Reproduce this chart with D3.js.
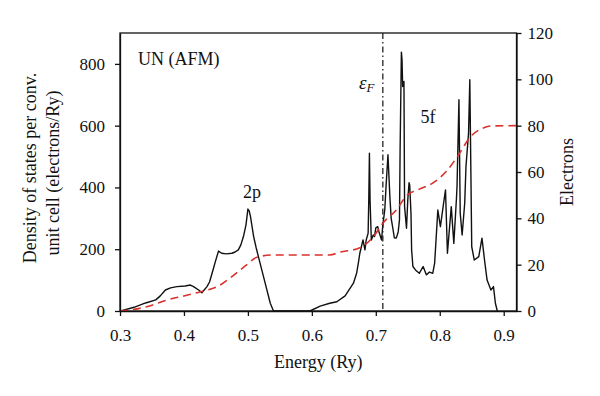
<!DOCTYPE html>
<html lang="en">

<head>
    <meta charset="UTF-8" />
    <title>UN (AFM) density of states</title>
    <script src="https://d3js.org/d3.v7.min.js"></script>
    <style>
        body {
            margin: 0;
            background: #fff;
        }

        svg {
            font-family: "Liberation Serif", "DejaVu Serif", serif;
        }

        .axis line,
        .axis path.domain {
            stroke: #111;
            stroke-width: 1.3px;
        }
    </style>
</head>

<body>
    <svg id="chart" width="600" height="396"></svg>

    <script>
        // energy grid of the DOS curve (Ry) and DOS values (electrons/Ry)
        const dosEnergy = [0.301, 0.322, 0.340, 0.356, 0.363, 0.371, 0.379, 0.389, 0.402, 0.410,
            0.415, 0.423, 0.428, 0.436, 0.440, 0.444, 0.449, 0.454, 0.459, 0.466,
            0.475, 0.480, 0.485, 0.489, 0.493, 0.497, 0.500, 0.502, 0.504, 0.509,
            0.513, 0.519, 0.527, 0.535, 0.540, 0.597, 0.613, 0.628, 0.639, 0.652,
            0.665, 0.670, 0.673, 0.675, 0.680, 0.683, 0.685, 0.688, 0.689, 0.690,
            0.691, 0.693, 0.696, 0.698, 0.700, 0.703, 0.705, 0.709, 0.711, 0.714,
            0.716, 0.719, 0.722, 0.724, 0.727, 0.729, 0.732, 0.735, 0.737, 0.738,
            0.740, 0.741, 0.742, 0.744, 0.745, 0.748, 0.750, 0.752, 0.753, 0.755,
            0.756, 0.758, 0.762, 0.768, 0.774, 0.779, 0.784, 0.789, 0.792, 0.797,
            0.801, 0.806, 0.809, 0.812, 0.818, 0.822, 0.826, 0.827, 0.830, 0.832,
            0.835, 0.839, 0.841, 0.845, 0.847, 0.850, 0.854, 0.861, 0.866, 0.870,
            0.874, 0.880, 0.884, 0.887, 0.890
        ];
        const dosValues = [0, 12, 26, 36, 49, 68, 75, 79, 81, 84,
            79, 68, 59, 79, 94, 122, 159, 194, 187, 185,
            187, 191, 198, 214, 241, 279, 330, 324, 306, 241,
            204, 155, 90, 25, 0, 0, 16, 25, 30, 49,
            90, 122, 159, 187, 230, 198, 230, 252, 360, 511,
            360, 230, 246, 241, 269, 273, 256, 230, 279, 327,
            403, 506, 370, 301, 263, 237, 236, 256, 295, 522,
            838, 814, 727, 743, 338, 268, 360, 415, 408, 317,
            198, 144, 133, 122, 144, 117, 126, 122, 155, 327,
            273, 349, 392, 187, 338, 219, 360, 403, 684, 317,
            246, 349, 468, 576, 749, 208, 165, 176, 236, 165,
            100, 68, 79, 25, 0
        ];

        // integrated number of electrons (red dashed curve)
        const elecEnergy = [0.300, 0.322, 0.350, 0.374, 0.400, 0.426, 0.452, 0.478, 0.498, 0.514,
            0.540, 0.628, 0.644, 0.675, 0.696, 0.711, 0.732, 0.748, 0.768, 0.789,
            0.810, 0.831, 0.846, 0.867, 0.883, 0.920
        ];
        const elecValues = [0, 0.7, 2.5, 4.8, 6.5, 8.3, 10.5, 15.5, 19.9, 23.2,
            24.2, 24.2, 25.4, 27.3, 32.0, 37.9, 43.6, 49.7, 52.6, 55.2,
            60.2, 68.1, 74.6, 78.9, 79.9, 80.0
        ];

        const xTicks = [0.3, 0.4, 0.5, 0.6, 0.7, 0.8, 0.9];
        const yLeftTicks = [0, 200, 400, 600, 800];
        const yRightTicks = [0, 20, 40, 60, 80, 100, 120];
        const fermiEnergy = 0.711;

        const serif = "'Liberation Serif', 'DejaVu Serif', serif";

        const svg = d3.select("#chart");
        const width = +svg.attr("width");
        const height = +svg.attr("height");

        const margin = {
            top: 33,
            right: 83.5,
            bottom: 85,
            left: 120
        };

        const x = d3.scaleLinear()
            .domain([0.3, 0.92])
            .range([margin.left, width - margin.right]);

        const yLeft = d3.scaleLinear()
            .domain([0, 900])
            .range([height - margin.bottom, margin.top]);

        const yRight = d3.scaleLinear()
            .domain([0, 120])
            .range([height - margin.bottom, margin.top]);

        const plotBottom = height - margin.bottom;

        // frame
        svg.append("rect")
            .attr("x", margin.left)
            .attr("y", margin.top)
            .attr("width", x.range()[1] - margin.left)
            .attr("height", plotBottom - margin.top)
            .attr("fill", "none")
            .attr("stroke", "#111")
            .attr("stroke-width", 1.3);

        // fermi level
        svg.append("line")
            .attr("x1", x(fermiEnergy)).attr("x2", x(fermiEnergy))
            .attr("y1", margin.top).attr("y2", plotBottom)
            .attr("stroke", "#111")
            .attr("stroke-width", 1.2)
            .attr("stroke-dasharray", "6,3,1.5,3");

        const dosLine = d3.line()
            .x((d, i) => x(dosEnergy[i]))
            .y(d => yLeft(d));

        svg.append("path")
            .attr("d", dosLine(dosValues))
            .attr("fill", "none")
            .attr("stroke", "#111")
            .attr("stroke-width", 1.4)
            .attr("stroke-linejoin", "round");

        const elecLine = d3.line()
            .x((d, i) => x(elecEnergy[i]))
            .y(d => yRight(d))
            .curve(d3.curveMonotoneX);

        svg.append("path")
            .attr("d", elecLine(elecValues))
            .attr("fill", "none")
            .attr("stroke", "#d9312b")
            .attr("stroke-width", 1.6)
            .attr("stroke-dasharray", "8,5");

        // axes
        function styleAxis(g) {
            g.attr("font-family", serif).attr("font-size", 17);
            g.selectAll("text")
                .attr("font-family", serif)
                .attr("fill", "#111");
        }

        svg.append("g")
            .attr("class", "axis")
            .attr("transform", `translate(0, ${plotBottom})`)
            .call(d3.axisBottom(x).tickValues(xTicks).tickFormat(d3.format(".1f"))
                .tickSizeInner(5).tickSizeOuter(0).tickPadding(13))
            .call(styleAxis);

        svg.append("g")
            .attr("class", "axis")
            .attr("transform", `translate(${margin.left}, 0)`)
            .call(d3.axisLeft(yLeft).tickValues(yLeftTicks)
                .tickSizeInner(5).tickSizeOuter(0).tickPadding(10))
            .call(styleAxis);

        svg.append("g")
            .attr("class", "axis")
            .attr("transform", `translate(${x.range()[1]}, 0)`)
            .call(d3.axisRight(yRight).tickValues(yRightTicks)
                .tickSizeInner(5).tickSizeOuter(0).tickPadding(6))
            .call(styleAxis);

        // axis titles
        svg.append("text")
            .attr("x", x(0.61))
            .attr("y", 368)
            .attr("text-anchor", "middle")
            .attr("font-size", 18)
            .attr("fill", "#111")
            .text("Energy (Ry)");

        const leftTitle = svg.append("text")
            .attr("transform", `translate(36, 168) rotate(-90)`)
            .attr("text-anchor", "middle")
            .attr("font-size", 18)
            .attr("fill", "#111");
        leftTitle.append("tspan").attr("x", 0).attr("y", 0).text("Density of states per conv.");
        leftTitle.append("tspan").attr("x", -5).attr("y", 23).text("unit cell (electrons/Ry)");

        svg.append("text")
            .attr("transform", `translate(573, 172) rotate(-90)`)
            .attr("text-anchor", "middle")
            .attr("font-size", 18)
            .attr("fill", "#111")
            .text("Electrons");

        // annotations
        svg.append("text")
            .attr("x", 138)
            .attr("y", 65)
            .attr("font-size", 18)
            .attr("fill", "#111")
            .text("UN (AFM)");

        svg.append("text")
            .attr("x", 252)
            .attr("y", 198)
            .attr("text-anchor", "middle")
            .attr("font-size", 18)
            .attr("fill", "#111")
            .text("2p");

        svg.append("text")
            .attr("x", 428)
            .attr("y", 123)
            .attr("text-anchor", "middle")
            .attr("font-size", 18)
            .attr("fill", "#111")
            .text("5f");

        const fermiLabel = svg.append("text")
            .attr("x", 359)
            .attr("y", 89)
            .attr("font-size", 19)
            .attr("fill", "#111");
        fermiLabel.append("tspan").attr("font-style", "italic").text("ε");
        fermiLabel.append("tspan").attr("font-style", "italic").attr("font-size", 13).attr("dy", 3).text("F");
    </script>
</body>

</html>
